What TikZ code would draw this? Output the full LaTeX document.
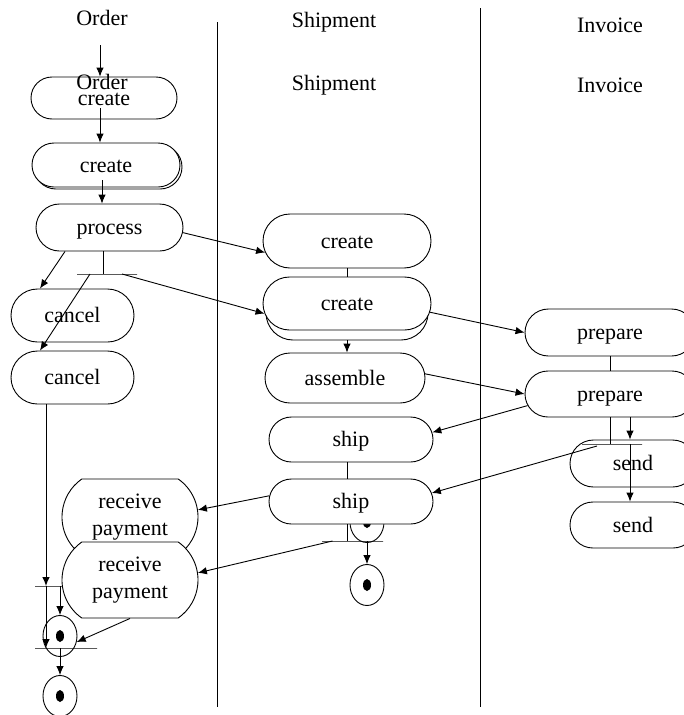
\documentclass[tikz,border=0pt]{standalone}
\usepackage{fontspec}
\setmainfont{Liberation Serif}
\usetikzlibrary{arrows.meta,calc,shapes.misc,shapes.geometric}

\begin{document}
\begin{tikzpicture}[>={Latex[length=9pt,width=7.5pt]}, x=1pt, y=-1pt, line width=.9pt,
    font=\fontsize{22}{27}\selectfont,
    box/.style={rounded rectangle, draw, fill=white, inner sep=0pt},
    act/.style={box, text height=16pt, text depth=2pt},
    pay/.style={box, rounded rectangle arc length=110, align=center, minimum width=136, minimum height=76},
    bar/.style={draw, minimum height=0pt, inner sep=0pt},
    fin/.style={ellipse, draw, fill=white, minimum width=34, minimum height=41},
    lane/.style={anchor=base}]
    \useasboundingbox (0,0) rectangle (683,715);
    \def\dot#1{\fill (#1) ellipse [x radius=4, y radius=6];}
    \draw (217,22) -- (217,707);
    \draw (480,8) -- (480,707);
    \node[lane] (hO) at (102,25) {Order};
    \node[lane] (hS) at (334,27) {Shipment};
    \node[lane] (hI) at (610,32) {Invoice};
    \node[lane] (hS2) at (334,90) {Shipment};
    \node[lane] (hI2) at (610,92) {Invoice};
    \coordinate (in0) at (100,45);

    \node[act, minimum width=146, minimum height=42] (oc1) at (104,98) {create};
    \node[lane] (hO2) at (102,89) {Order};
    \node[act, minimum width=148, minimum height=44] (oc2s) at (108,167) {};
    \node[act, minimum width=148, minimum height=44] (oc2) at (106,165) {create};
    \node[act, minimum width=147, minimum height=47] (proc) at (109.5,227.5) {process};
    \node[bar, minimum width=60] (f1) at (107,274) {};
    \node[act, minimum width=123, minimum height=53] (ca1) at (72.5,315.5) {cancel};
    \node[act, minimum width=123, minimum height=53] (ca2) at (72.5,377.5) {cancel};
    \node[pay] (rp1) at (130,517) {receive\\payment};
    \node[pay] (rp2) at (130,580) {receive\\payment};
    \node[bar, minimum width=27] (f2) at (48.5,586) {};
    \node[fin] (e1) at (60,636) {}; \dot{e1}
    \node[bar, minimum width=62] (f3) at (66,648) {};
    \node[fin] (e2) at (60,696) {}; \dot{e2}

    \node[act, minimum width=168, minimum height=54] (sc1) at (347,241) {create};
    \node[act, minimum width=162, minimum height=54] (sc2s) at (347,313) {};
    \node[act, minimum width=168, minimum height=53] (sc2) at (347,303.5) {create};
    \node[act, minimum width=160, minimum height=50] (as) at (345,378) {assemble};
    \node[act, minimum width=164, minimum height=45] (sh1) at (351,439.5) {ship};
    \node[fin] (e3) at (367,522) {}; \dot{e3}
    \node[act, minimum width=164, minimum height=45] (sh2) at (351,501.5) {ship};
    \node[bar, minimum width=61] (f4) at (352.5,541) {};
    \node[fin] (e4) at (367,585) {}; \dot{e4}

    \node[act, minimum width=170, minimum height=47] (pr1) at (610,332.5) {prepare};
    \node[act, minimum width=170, minimum height=46] (pr2) at (610,394) {prepare};
    \node[act, minimum width=126, minimum height=47] (se1) at (633,463.5) {send};
    \node[act, minimum width=126, minimum height=46] (se2) at (633,525) {send};
    \node[bar, minimum width=60] (f5) at (612,444) {};

    \draw[->] (in0) -- (in0 |- oc1.north);
    \draw[->] ($(oc1.south)+(-4,-11)$) -- ($(oc2.north)+(-6,0)$);
    \draw[->] ($(oc2.south)+(-4,-7)$) -- ($(proc.north)+(-7.5,0)$);
    \draw ($(proc.south)+(-6.5,0)$) -- ($(f1.center)+(-4,0)$);
    \draw[->] ($(proc.south)+(-44.5,0)$) -- ($(ca1.north)+(-32.5,0)$);
    \draw[->] ($(f1.center)+(-17,0)$) -- ($(ca2.north)+(-32.5,0)$);
    \draw[->] (proc.-4) -- (sc1.188);
    \draw[->] ($(f1.center)+(15,0)$) -- (sc2.187);
    \draw (sc1.south) -- (sc2.north);
    \draw[->] (sc2s.south) -- (sc2s.south |- as.north);
    \draw[->] (sc2.-6) -- (pr1.west);
    \draw[->] (as.3) -- (pr2.west);
    \draw[->] (pr2.188) -- (sh1.5);
    \draw[->] ($(f5.center)+(-15,2)$) -- (sh2.6);
    \draw[->] (sh2.176) -- (rp1.6);
    \draw[->] ($(f4.center)+(-20,0)$) -- (rp2.6);
    \draw ($(sh1.south)+(-4,0)$) -- ($(sh2.north)+(-4,0)$);
    \draw ($(sh2.south)+(-4,0)$) -- ($(f4.center)+(-5.5,0)$);
    \draw[->] (e4.north |- f4.center) -- (e4.north);
    \draw (pr1.south) -- (pr2.north);
    \draw (pr2.south) -- (pr2.south |- f5.center);
    \draw[->] ($(pr2.south)+(20,0)$) -- ($(se1.north)+(-3,0)$);
    \draw[->] ($(f5.center)+(18,0)$) -- ($(se2.north)+(-3,0)$);
    \draw[->] ($(ca2.south)+(-26.5,0)$) -- ($(f2.center)+(-2.5,0)$);
    \draw[->] ($(f2.center)+(-2.5,0)$) -- ($(f3.center)+(-20,0)$);
    \draw[->] (e1.north |- f2.center) -- (e1.north);
    \draw[->] (rp2.south) -- (e1.-20);
    \draw[->] (e2.north |- f3.center) -- (e2.north);
\end{tikzpicture}
\end{document}
